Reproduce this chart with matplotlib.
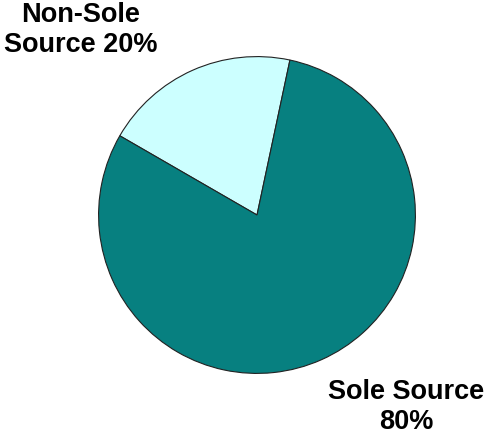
import matplotlib.pyplot as plt

# Share of procurement by source type
labels = ["Non-Sole\nSource 20%", "Sole Source\n80%"]
shares = [20, 80]
colors = ["#CCFFFF", "#078080"]

W, H = 488, 439
fig = plt.figure(figsize=(W / 100, H / 100), dpi=100)

# pie centred at (257, 216) px, radius 160 px
cx, cy, r = 257, 216, 160
ax = fig.add_axes([(cx - r) / W, (H - cy - r) / H, 2 * r / W, 2 * r / H])
ax.pie(shares, colors=colors, startangle=78, counterclock=True,
       wedgeprops=dict(edgecolor="#222222", linewidth=0.8))
ax.set_xlim(-1.01, 1.01)
ax.set_ylim(-1.01, 1.01)
ax.set_aspect("equal")
ax.axis("off")

font = dict(family="Liberation Sans", fontsize=19.5, fontweight="bold",
            ha="center", va="center", linespacing=1.2)
fig.text(81 / W, 1 - 30 / H, labels[0], **font)
fig.text(406 / W, 1 - 407 / H, labels[1], **font)

fig.savefig("out.png", dpi=100)
